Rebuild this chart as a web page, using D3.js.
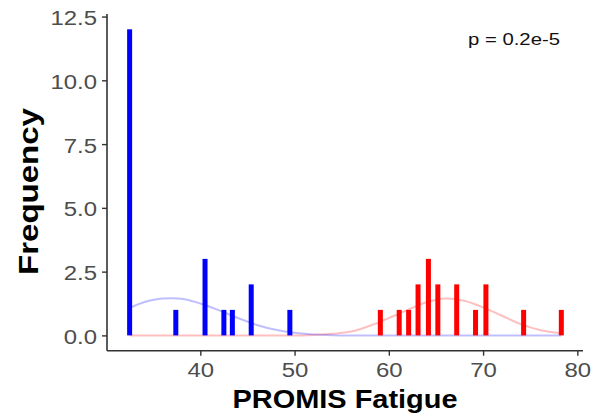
<!DOCTYPE html>
<html>
<head>
<meta charset="utf-8">
<script src="https://cdn.jsdelivr.net/npm/d3@7"></script>
<style>
  html, body { margin: 0; padding: 0; background: #fff; }
  svg { display: block; }
  text { font-family: "Liberation Sans", Arial, Helvetica, sans-serif; }
</style>
</head>
<body>
<svg id="chart" width="592" height="419"></svg>
<script>
// ---- data ----
const blueScores = [32.5, 37.4, 40.5, 42.5, 43.4, 45.4, 49.5];
const blueCounts = [12, 1, 3, 1, 1, 2, 1];
const redScores  = [59.1, 61.1, 62.1, 63.1, 64.2, 65.2, 67.2, 69.2, 70.3, 74.3, 78.3];
const redCounts  = [1, 1, 1, 2, 3, 2, 2, 1, 2, 1, 1];

// fitted density curves
const blueCurveX = [32.5, 34, 36, 37, 38, 40, 42, 44, 46, 48, 50, 52, 54, 56, 78.3];
const blueCurveY = [1.08, 1.3, 1.45, 1.46, 1.44, 1.25, 0.98, 0.68, 0.41, 0.22, 0.1, 0.04, 0.01, 0, 0];
const redCurveX  = [32.5, 50, 52, 54, 56, 58, 60, 62, 64, 66, 68, 70, 72, 74, 76, 78.3];
const redCurveY  = [0, 0, 0.02, 0.06, 0.15, 0.38, 0.68, 1.0, 1.3, 1.45, 1.36, 1.1, 0.77, 0.44, 0.21, 0.08];

const xTicks = [40, 50, 60, 70, 80];
const yTicks = [0, 2.5, 5, 7.5, 10, 12.5];
const yTickLabels = ["0.0", "2.5", "5.0", "7.5", "10.0", "12.5"];
const xTitle = "PROMIS Fatigue";
const yTitle = "Frequency";
const pLabel = "p = 0.2e-5";

// ---- layout ----
const svg = d3.select("#chart");
const mLeft = 107, mRight = 583, mTop = 14, mBottom = 350.7;
const x = d3.scaleLinear().domain([30.1, 80.6]).range([mLeft, mRight]);
const y = d3.scaleLinear().domain([-0.6, 12.6]).range([mBottom, mTop]);
const stretch = 1.14;

// curves (under bars)
const line = d3.line().x(d => x(d[0])).y(d => y(d[1])).curve(d3.curveMonotoneX);
svg.append("path")
  .datum(redCurveX.map((v, i) => [v, redCurveY[i]]))
  .attr("d", line).attr("fill", "none")
  .attr("stroke", "rgba(255,0,0,0.25)").attr("stroke-width", 2);
svg.append("path")
  .datum(blueCurveX.map((v, i) => [v, blueCurveY[i]]))
  .attr("d", line).attr("fill", "none")
  .attr("stroke", "rgba(0,0,255,0.25)").attr("stroke-width", 2);

// bars
const barW = 5;
function bars(scores, counts, color) {
  svg.append("g").selectAll("rect")
    .data(scores.map((s, i) => ({ s, c: counts[i] })))
    .join("rect")
    .attr("x", d => x(d.s) - barW / 2)
    .attr("width", barW)
    .attr("y", d => y(d.c))
    .attr("height", d => y(0) - y(d.c))
    .attr("fill", color);
}
bars(blueScores, blueCounts, "#0000ff");
bars(redScores, redCounts, "#ff0000");

// axes
const axisColor = "#333333";
const gx = svg.append("g").attr("transform", `translate(0,${mBottom})`)
  .call(d3.axisBottom(x).tickValues(xTicks).tickFormat(d3.format("d")).tickSize(5).tickSizeOuter(0));
gx.select(".domain").attr("stroke", axisColor).attr("stroke-width", 1.6).attr("d", `M${mLeft},0H${mRight}`);
gx.selectAll(".tick line").attr("stroke", axisColor).attr("stroke-width", 1.4);
gx.selectAll(".tick text")
  .attr("y", 26.5).attr("dy", 0)
  .attr("fill", "#4d4d4d").attr("font-size", 21)
  .attr("transform", `scale(${stretch},1)`);

const gy = svg.append("g").attr("transform", `translate(${mLeft},0)`)
  .call(d3.axisLeft(y).tickValues(yTicks).tickFormat((d, i) => yTickLabels[i]).tickSize(5).tickSizeOuter(0));
gy.select(".domain").attr("stroke", axisColor).attr("stroke-width", 1.6).attr("d", `M0,${mTop}V${mBottom}`);
gy.selectAll(".tick line").attr("stroke", axisColor).attr("stroke-width", 1.4);
gy.selectAll(".tick text")
  .attr("x", -8.8).attr("dy", "0.38em")
  .attr("fill", "#4d4d4d").attr("font-size", 21)
  .attr("transform", `scale(${stretch},1)`);
svg.selectAll(".tick text").attr("font-family", "'Liberation Sans', Arial, sans-serif");

// titles
svg.append("text")
  .attr("x", (mLeft + mRight) / 2).attr("y", 408)
  .attr("text-anchor", "middle")
  .attr("font-size", 25).attr("font-weight", "bold").attr("fill", "#000")
  .attr("textLength", 225).attr("lengthAdjust", "spacingAndGlyphs")
  .text(xTitle);

svg.append("text")
  .attr("transform", "translate(38,191.5) rotate(-90)")
  .attr("text-anchor", "middle")
  .attr("font-size", 28).attr("font-weight", "bold").attr("fill", "#000")
  .attr("textLength", 167).attr("lengthAdjust", "spacingAndGlyphs")
  .text(yTitle);

// p-value annotation
svg.append("text")
  .attr("x", 468).attr("y", 45)
  .attr("font-size", 17).attr("fill", "#111")
  .attr("textLength", 92).attr("lengthAdjust", "spacingAndGlyphs")
  .text(pLabel);
</script>
</body>
</html>
